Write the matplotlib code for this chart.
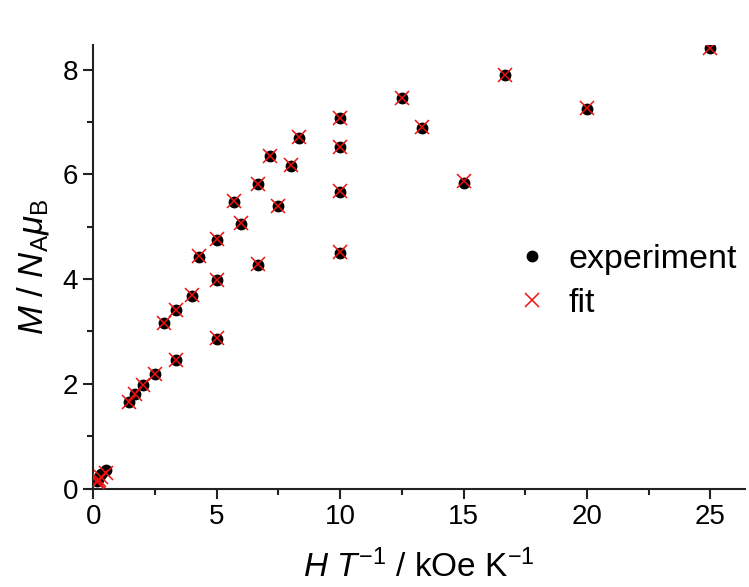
import matplotlib
matplotlib.use("Agg")
import matplotlib.pyplot as plt
from matplotlib.ticker import MultipleLocator

plt.rcParams['font.family'] = ['Liberation Sans', 'DejaVu Sans']
plt.rcParams['mathtext.fontset'] = 'custom'
plt.rcParams['mathtext.rm'] = 'Liberation Sans'
plt.rcParams['mathtext.it'] = 'Liberation Sans:italic'
plt.rcParams['mathtext.bf'] = 'Liberation Sans:bold'

# H/T (kOe/K)
ht = [25, 20, 16.67, 15, 13.33, 12.5, 10, 10, 10, 10, 8.33, 8, 7.5, 7.14,
      6.67, 6.67, 6, 5.71, 5, 5, 5, 4.29, 4, 3.33, 3.33, 2.86, 2.5, 2.0,
      1.67, 1.43, 0.5, 0.33, 0.25, 0.2, 0.167]
# experimental magnetization (N_A mu_B)
m_exp = [8.41, 7.25, 7.89, 5.84, 6.89, 7.45, 7.07, 6.52, 5.67, 4.50, 6.70,
         6.16, 5.39, 6.35, 5.81, 4.27, 5.06, 5.48, 4.75, 3.98, 2.86, 4.43,
         3.68, 3.41, 2.45, 3.16, 2.18, 1.98, 1.80, 1.65, 0.36, 0.28, 0.22,
         0.18, 0.15]
# fitted magnetization
m_fit = [8.41, 7.26, 7.90, 5.87, 6.90, 7.45, 7.08, 6.53, 5.68, 4.52, 6.71,
         6.17, 5.40, 6.35, 5.82, 4.29, 5.07, 5.49, 4.76, 3.99, 2.87, 4.44,
         3.69, 3.41, 2.46, 3.16, 2.19, 1.98, 1.80, 1.66, 0.30, 0.22, 0.17,
         0.14, 0.12]

fig = plt.figure(figsize=(7.49, 5.87), dpi=100)
ax = fig.add_axes([0.1246, 0.1675, 0.870, 0.756])

ax.plot(ht, m_exp, 'o', color='black', markersize=7.5, linestyle='none',
        label='experiment', zorder=2)
ax.plot(ht, m_fit, 'x', color='#ee1111', markersize=10, markeredgewidth=1.1,
        linestyle='none', label='fit', zorder=3)

ax.set_xlim(0, 26.4)
ax.set_ylim(0, 8.47)
ax.xaxis.set_major_locator(MultipleLocator(5))
ax.xaxis.set_minor_locator(MultipleLocator(2.5))
ax.yaxis.set_major_locator(MultipleLocator(2))
ax.yaxis.set_minor_locator(MultipleLocator(1))

for s in ['top', 'right']:
    ax.spines[s].set_visible(False)
for s in ['left', 'bottom']:
    ax.spines[s].set_linewidth(1.5)
    ax.spines[s].set_color('#222222')

ax.tick_params(which='major', direction='out', length=7, width=1.5,
               labelsize=20, pad=4, colors='#222222')
ax.tick_params(which='minor', direction='out', length=4, width=1.5,
               colors='#222222')
ax.tick_params(labelcolor='black')

ax.set_xlabel(r'$H\ T^{\mathrm{-1}}$ / kOe K$^{\mathrm{-1}}$', fontsize=24, labelpad=14)
ax.set_ylabel(r'$M$ / $N_{\mathrm{A}}\mu_{\mathrm{B}}$', fontsize=25, labelpad=8)

ax.legend(loc='center left', bbox_to_anchor=(0.615, 0.467), frameon=False,
          fontsize=24.5, handletextpad=0.5, labelspacing=0.4, borderpad=0,
          markerscale=1.0, handlelength=1.2)

fig.savefig('out.png', dpi=100)
